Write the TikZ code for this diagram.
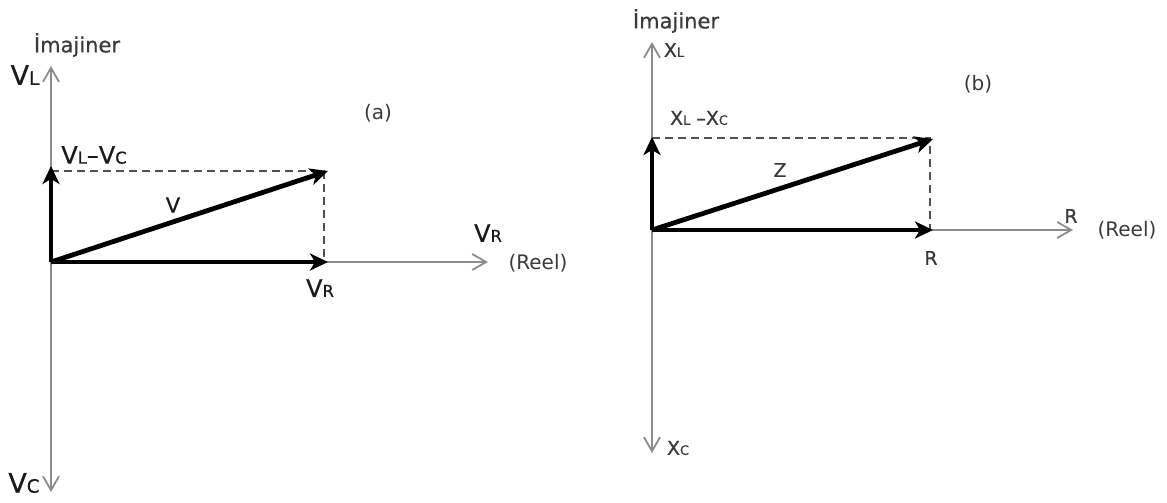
\documentclass[tikz,border=0pt]{standalone}
\usepackage{fontspec}
\usepackage{graphicx}
\setmainfont{DejaVu Sans}
\newfontfamily\lblfont[FakeBold=0.6]{DejaVu Sans}
\usetikzlibrary{arrows.meta}
\newcommand\smc[1]{\scalebox{0.68}{#1}}
\definecolor{axisgray}{HTML}{8C8C8C}
\definecolor{txtdark}{HTML}{1A1A1A}
\definecolor{txtgray}{HTML}{3A3A3A}
\definecolor{dashgray}{HTML}{505050}
\tikzset{
  axtip/.tip={Straight Barb[length=7pt,width=8pt,line width=0.9pt]},
  vectip/.tip={Stealth[length=9pt,width=8.5pt,inset=2.5pt]},
}
\begin{document}
\begin{tikzpicture}[x=0.5pt,y=-0.5pt,
  axisline/.style={draw=axisgray, line width=0.9pt},
  vec/.style={draw=black, line width=2.4pt, -vectip},
  guide/.style={draw=dashgray, line width=0.7pt, dash pattern=on 4pt off 2.5pt},
  lbl/.style={inner sep=0pt, text=txtdark},
  biglbl/.style={lbl, font=\lblfont\fontsize{13.5}{15}\selectfont},
  midlbl/.style={lbl, font=\lblfont\fontsize{12}{14}\selectfont},
  smalllbl/.style={lbl, text=txtgray, font=\lblfont\fontsize{9.5}{11}\selectfont},
  parlbl/.style={lbl, text=txtgray, font=\fontsize{10}{12}\selectfont},
]
\useasboundingbox (0,0) rectangle (1167,503);

% ---------------- panel (a)
\coordinate (Oa) at (51,262);
\coordinate (aTop) at (51,66);
\coordinate (aBot) at (51,492);
\coordinate (aRight) at (488,262);
\coordinate (aVL) at (51,166);
\coordinate (aVR) at (328,262);
\coordinate (aV) at (328,171);
\coordinate (aDl) at (51,171);
\coordinate (aDc) at (324,171);
\coordinate (aDb) at (324,262);

\draw[axisline, axtip-axtip] (aBot) -- (aTop);
\draw[axisline, -axtip] (Oa) -- (aRight);
\draw[guide] (aDl) -- (aDc) -- (aDb);
\draw[vec] (Oa) -- (aVL);
\draw[vec] (Oa) -- (aVR);
\draw[vec] (Oa) -- (aV);

\node[lbl, text=txtgray, font=\lblfont\fontsize{10.5}{12}\selectfont] (imA) at (77,45) {İmajiner};
\node[biglbl] (VLa) at (25,75) {V\smc{L}};
\node[parlbl] (pa) at (378,113) {(a)};
\node[midlbl] (VLVC) at (94,155) {V\smc{L}–V\smc{C}};
\node[lbl, font=\lblfont\fontsize{10.5}{12}\selectfont] (Vlab) at (173,205) {V};
\node[midlbl] (VRax) at (488,233) {V\smc{R}};
\node[parlbl] (reelA) at (538,263) {(Reel)};
\node[midlbl] (VRb) at (320,288) {V\smc{R}};
\node[biglbl] (VCa) at (24,483) {V\smc{C}};

% ---------------- panel (b)
\coordinate (Ob) at (652,230);
\coordinate (bTop) at (652,42);
\coordinate (bBot) at (652,453);
\coordinate (bRight) at (1073,230);
\coordinate (bXL) at (652,137);
\coordinate (bR) at (933,230);
\coordinate (bZ) at (933,139);
\coordinate (bDl) at (652,138);
\coordinate (bDc) at (930,138);
\coordinate (bDb) at (930,230);

\draw[axisline, axtip-axtip] (bBot) -- (bTop);
\draw[axisline, -axtip] (Ob) -- (bRight);
\draw[guide] (bDl) -- (bDc) -- (bDb);
\draw[vec] (Ob) -- (bXL);
\draw[vec] (Ob) -- (bR);
\draw[vec] (Ob) -- (bZ);

\node[lbl, text=txtgray, font=\lblfont\fontsize{10.5}{12}\selectfont] (imB) at (676,21) {İmajiner};
\node[smalllbl] (XLb) at (674,50) {X\smc{L}};
\node[parlbl] (pb) at (978,84) {(b)};
\node[smalllbl] (XLXC) at (699,118) {X\smc{L} –X\smc{C}};
\node[smalllbl] (Zlab) at (780,170) {Z};
\node[smalllbl] (Rax) at (1071,216) {R};
\node[parlbl] (reelB) at (1127,230) {(Reel)};
\node[smalllbl] (Rb) at (931,258) {R};
\node[smalllbl] (XCb) at (678,448) {X\smc{C}};
\end{tikzpicture}
\end{document}
